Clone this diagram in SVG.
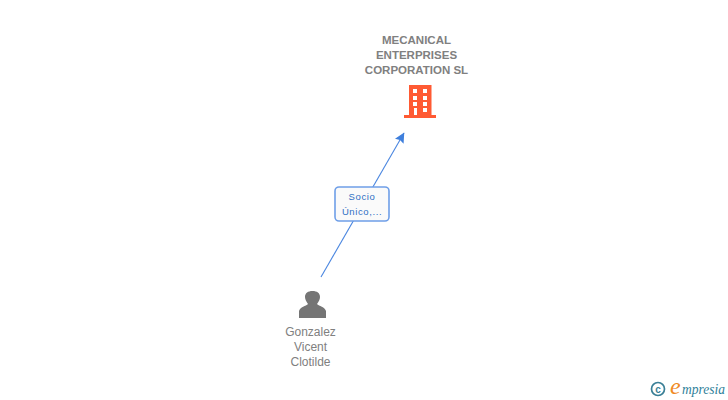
<svg xmlns="http://www.w3.org/2000/svg" width="728" height="400" viewBox="0 0 728 400">
<style>
.t{font-family:"Liberation Sans",Arial,sans-serif;font-size:12px;text-anchor:middle}
.co{font-weight:bold;fill:#808080;font-size:11.5px}
.pe{fill:#808080}
.ed{font-size:9.5px;fill:#2f6fc4;letter-spacing:.6px}
</style>
<defs><marker id="a" markerWidth="11" markerHeight="11" refX="9.500" refY="5" orient="auto" markerUnits="userSpaceOnUse"><path d="M0 0L10 5L0 10L1.500 5Z" fill="#3f7fdc"/></marker></defs>
<rect width="728" height="400" fill="#fff"/>
<g id="connectors">
<path d="M321 277L404 133" fill="none" stroke="#4a86e0" stroke-width="1.100" marker-end="url(#a)"/>
</g>
<g id="edge-label">
<rect x="335" y="187" width="54" height="34" rx="4" fill="#fafafa" stroke="#6f9fe8" stroke-width="1.600"/>
<text class="t ed" x="362" y="200">Socio</text>
<text class="t ed" x="362" y="215">Único,...</text>
</g>
<g id="company">
<text class="t co" x="416.500" y="44">MECANICAL</text>
<text class="t co" x="416.500" y="58.500">ENTERPRISES</text>
<text class="t co" x="416.500" y="73.500">CORPORATION SL</text>
<path fill="#ff5a33" fill-rule="evenodd" d="M409 85H431.500V115H436V118H404V115H409ZM413 89V93H417V89ZM423 89V93H427V89ZM413 96V100H417V96ZM423 96V100H427V96ZM413 102V106H417V102ZM423 102V106H427V102ZM414 108V115H417V108ZM423 108V112H427V108Z"/>
</g>
<g id="person">
<path fill="#757575" d="M299 318V311C300 307 306 306 308 304C306 301 305 299 305 297C305 293 308 291 312.500 291C317 291 320 293 320 297C320 299 319 301 317 304C319 306 325 307 326 311V318Z"/>
<text class="t pe" x="310.500" y="336">Gonzalez</text>
<text class="t pe" x="310.500" y="351">Vicent</text>
<text class="t pe" x="310.500" y="366">Clotilde</text>
</g>
<g id="watermark">
<circle cx="658" cy="389" r="6.500" fill="none" stroke="#3a7f96" stroke-width="1.700"/>
<text x="658" y="392.500" font-family="Liberation Sans,sans-serif" font-size="10" font-weight="bold" fill="#3a7f96" text-anchor="middle">c</text>
<text x="670" y="394" font-family="Liberation Serif,serif" font-size="24" font-style="italic" fill="#f08a24">e</text>
<text x="682" y="394" font-family="Liberation Serif,serif" font-size="14" font-style="italic" textLength="43" lengthAdjust="spacingAndGlyphs" fill="#2f7f9a">mpresia</text>
</g>
</svg>
